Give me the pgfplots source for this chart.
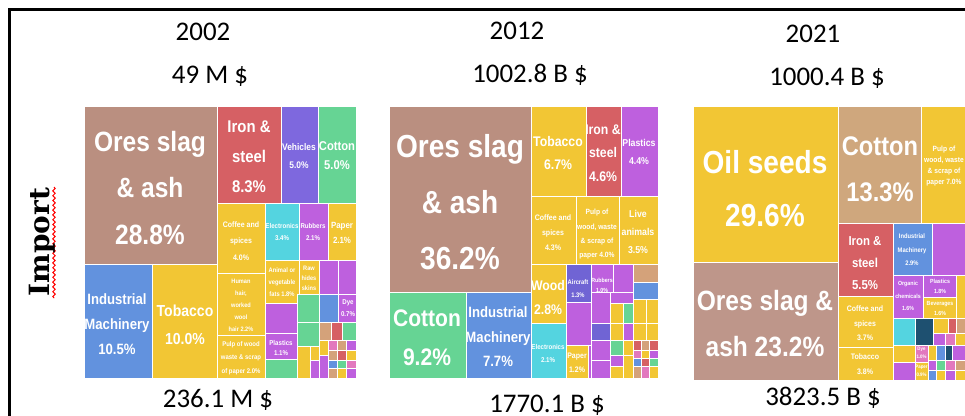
\documentclass[border=0pt]{standalone}
\usepackage{pgfplots}
\pgfplotsset{compat=1.18}
\usetikzlibrary{decorations.pathmorphing}
\usepackage{fontspec}
\setmainfont{Carlito}
\newfontfamily\tmfont{Liberation Sans}[FakeStretch=0.88]
\newfontfamily\impfont{DejaVu Serif}
\definecolor{ores}{RGB}{186,143,128}
\definecolor{ores3}{RGB}{190,150,138}
\definecolor{tan3}{RGB}{207,167,125}
\definecolor{yel}{RGB}{242,198,52}
\definecolor{red1}{RGB}{214,96,100}
\definecolor{grn}{RGB}{102,212,148}
\definecolor{blu}{RGB}{98,146,222}
\definecolor{veh}{RGB}{126,104,222}
\definecolor{pur}{RGB}{190,96,222}
\definecolor{cya}{RGB}{84,212,224}
\definecolor{air}{RGB}{112,100,212}
\definecolor{teal}{RGB}{30,80,112}
\definecolor{tsm}{RGB}{212,162,122}
\definecolor{pnk}{RGB}{226,120,190}
\newcommand{\R}[5]{\addplot[fill=#1, draw=white, line width=0.5bp] coordinates {(#2,#3) (#4,#3) (#4,#5) (#2,#5)} --cycle;}
\newcommand{\lab}[5]{\node[text=white, font=\tmfont\bfseries\fontsize{#3}{#4}\selectfont, align=center, inner sep=0pt] at (axis cs:#1,#2) {#5};}
\newcommand{\ttl}[3]{\node[anchor=base, inner sep=0pt, font=\fontsize{13.5}{16}\selectfont] at (axis cs:#1,#2) {#3};}
\begin{document}
\begin{tikzpicture}
\begin{axis}[scale only axis, width=482.5bp, height=208bp,
  xmin=0, xmax=965, ymin=0, ymax=416, y dir=reverse,
  hide axis, clip=true, no markers]
\addplot[draw=none, fill=none] coordinates {(0,0) (965,0) (965,416) (0,416)};
% ---------- 2002 ----------
\R{ores}{84}{107}{217}{264}
\R{red1}{217}{107}{281}{203}
\R{veh}{281}{107}{318}{203}
\R{grn}{318}{107}{356}{203}
\R{blu}{84}{264}{152}{378}
\R{yel}{152}{264}{217}{378}
\R{yel}{217}{203}{265}{273}
\R{yel}{217}{273}{265}{335}
\R{yel}{217}{335}{265}{378}
\R{cya}{265}{203}{299}{260}
\R{pur}{299}{203}{328}{260}
\R{yel}{328}{203}{356}{260}
\R{yel}{265}{260}{299}{303}
\R{yel}{299}{260}{319}{294}
\R{pur}{319}{260}{338}{294}
\R{pur}{338}{260}{356}{294}
\R{pur}{265}{303}{297}{333}
\R{pur}{265}{333}{297}{359}
\R{grn}{265}{359}{297}{378}
\R{grn}{297}{294}{319}{322}
\R{grn}{297}{322}{319}{346}
\R{yel}{297}{346}{310}{378}
\R{yel}{310}{346}{319}{360}
\R{pur}{310}{360}{319}{378}
\R{blu}{319}{294}{338}{322}
\R{pur}{338}{294}{356}{322}
\R{tsm}{319}{322}{331}{340}
\R{red1}{331}{322}{342}{340}
\R{grn}{342}{322}{356}{340}
\R{yel}{319}{340}{328}{355}
\R{pnk}{328}{340}{337}{350}
\R{tsm}{337}{340}{346}{350}
\R{pur}{346}{340}{356}{350}
\R{tsm}{328}{350}{337}{360}
\R{red1}{337}{350}{346}{360}
\R{yel}{346}{350}{356}{360}
\R{pur}{319}{355}{328}{378}
\R{blu}{328}{360}{337}{368}
\R{grn}{337}{360}{346}{368}
\R{pnk}{346}{360}{356}{368}
\R{tsm}{328}{368}{337}{378}
\R{yel}{337}{368}{346}{378}
\R{pur}{346}{368}{356}{378}
% ---------- 2012 ----------
\R{ores}{389}{107}{531}{292}
\R{grn}{389}{292}{466}{378}
\R{blu}{466}{292}{531}{378}
\R{yel}{531}{107}{586}{196}
\R{red1}{586}{107}{621}{196}
\R{pur}{621}{107}{658}{196}
\R{yel}{531}{196}{576}{264}
\R{yel}{576}{196}{619}{264}
\R{yel}{619}{196}{658}{264}
\R{yel}{531}{264}{566}{323}
\R{cya}{531}{323}{566}{378}
\R{air}{566}{264}{591}{302}
\R{pur}{591}{264}{613}{292}
\R{pur}{613}{264}{633}{292}
\R{tsm}{633}{264}{658}{282}
\R{blu}{633}{282}{658}{299}
\R{pur}{566}{302}{591}{345}
\R{yel}{566}{345}{588}{378}
\R{pur}{588}{345}{591}{378}
\R{pur}{591}{292}{610}{323}
\R{pur}{610}{292}{633}{303}
\R{yel}{633}{299}{646}{323}
\R{yel}{646}{299}{658}{323}
\R{yel}{610}{303}{623}{323}
\R{grn}{623}{303}{633}{323}
\R{air}{591}{323}{610}{340}
\R{pur}{591}{340}{610}{360}
\R{pur}{591}{360}{610}{378}
\R{yel}{610}{323}{623}{340}
\R{pur}{623}{323}{633}{340}
\R{yel}{633}{323}{646}{340}
\R{yel}{646}{323}{658}{340}
\R{grn}{610}{340}{623}{355}
\R{yel}{623}{340}{633}{355}
\R{red1}{633}{340}{641}{350}
\R{tsm}{641}{340}{649}{350}
\R{red1}{649}{340}{658}{350}
\R{pur}{610}{355}{623}{366}
\R{yel}{610}{366}{623}{378}
\R{yel}{623}{355}{633}{378}
\R{pnk}{633}{350}{641}{358}
\R{yel}{641}{350}{649}{358}
\R{pur}{649}{350}{658}{358}
\R{blu}{633}{358}{641}{366}
\R{red1}{641}{358}{649}{366}
\R{grn}{649}{358}{658}{366}
\R{tsm}{633}{366}{641}{378}
\R{pnk}{641}{366}{649}{378}
\R{yel}{649}{366}{658}{378}
% ---------- 2021 ----------
\R{yel}{693}{107}{838}{262}
\R{ores3}{693}{262}{838}{380}
\R{tan3}{838}{107}{921}{223}
\R{yel}{921}{107}{965}{223}
\R{red1}{838}{223}{893}{296}
\R{yel}{838}{296}{893}{347}
\R{yel}{838}{347}{893}{380}
\R{blu}{893}{223}{932}{275}
\R{pur}{932}{223}{965}{275}
\R{pur}{893}{275}{923}{318}
\R{pur}{923}{275}{956}{297}
\R{yel}{923}{297}{956}{318}
\R{yel}{956}{275}{965}{318}
\R{cya}{893}{318}{915}{345}
\R{teal}{915}{318}{933}{345}
\R{yel}{893}{345}{915}{362}
\R{pur}{893}{362}{915}{380}
\R{yel}{933}{318}{948}{333}
\R{red1}{948}{318}{956}{333}
\R{tsm}{956}{318}{965}{333}
\R{pur}{933}{333}{945}{345}
\R{pnk}{945}{333}{955}{345}
\R{yel}{955}{333}{965}{345}
\R{pnk}{915}{345}{928}{362}
\R{yel}{928}{345}{936}{360}
\R{blu}{936}{345}{945}{360}
\R{teal}{945}{345}{952}{360}
\R{pur}{952}{345}{965}{360}
\R{yel}{915}{362}{928}{380}
\R{pur}{928}{360}{936}{370}
\R{blu}{928}{370}{936}{380}
\R{grn}{936}{360}{945}{370}
\R{yel}{936}{370}{945}{380}
\R{pnk}{945}{360}{955}{370}
\R{tsm}{955}{360}{965}{370}
\R{pur}{945}{370}{955}{380}
\R{yel}{955}{370}{965}{380}
% ---------- frame & import ----------
\addplot[black, line width=1.5bp] coordinates {(9,416) (9,10) (965,10)};
\addplot[red, line width=0.5bp, decorate, decoration={snake, amplitude=0.6bp, segment length=2.4bp}] coordinates {(54,187) (54,298)};
\node[rotate=90, inner sep=0pt, font=\impfont\bfseries\fontsize{14}{16}\selectfont] at (axis cs:42,242) {Import};
% ---------- titles ----------
\ttl{203}{41}{2002}
\ttl{210}{83}{49 M \$}
\ttl{218}{407}{236.1 M \$}
\ttl{517}{40}{2012}
\ttl{530}{82}{1002.8 B \$}
\ttl{547}{412}{1770.1 B \$}
\ttl{813}{43}{2021}
\ttl{827}{85}{1000.4 B \$}
\ttl{823}{405}{3823.5 B \$}
% ---------- labels 2002 ----------
\lab{150}{188}{14}{23.5}{Ores slag\\\& ash\\28.8\%}
\lab{249}{157}{8.5}{15}{Iron \&\\steel\\8.3\%}
\lab{299}{156}{4.8}{9}{Vehicles\\5.0\%}
\lab{337}{156}{6.4}{9.5}{Cotton\\5.0\%}
\lab{117}{324}{7.5}{12.5}{Industrial\\Machinery\\10.5\%}
\lab{185}{325}{8}{14}{Tobacco\\10.0\%}
\lab{241}{241}{4}{8.2}{Coffee and\\spices\\4.0\%}
\lab{282}{232}{3.5}{6}{Electronics\\3.4\%}
\lab{313}{232}{3.5}{6}{Rubbers\\2.1\%}
\lab{342}{233}{4.5}{7.5}{Paper\\2.1\%}
\lab{282}{282}{3.3}{6}{Animal or\\vegetable\\fats 1.8\%}
\lab{309}{278}{3.2}{5}{Raw\\hides\\skins}
\lab{241}{305}{3.2}{6}{Human\\hair,\\worked\\wool\\hair 2.2\%}
\lab{241}{358}{3.4}{6.7}{Pulp of wood\\waste \& scrap\\of paper 2.0\%}
\lab{281}{348}{3.5}{5}{Plastics\\1.1\%}
\lab{348}{308}{3.5}{6}{Dye\\0.7\%}
% ---------- labels 2012 ----------
\lab{460}{202}{16}{28}{Ores slag\\\& ash\\36.2\%}
\lab{427}{337.5}{12}{19.5}{Cotton\\9.2\%}
\lab{498}{337}{7.5}{12.3}{Industrial\\Machinery\\7.7\%}
\lab{558}{153}{7}{12}{Tobacco\\6.7\%}
\lab{603}{153}{7}{11.7}{Iron \&\\steel\\4.6\%}
\lab{639}{152}{5}{9}{Plastics\\4.4\%}
\lab{553}{233}{4}{7.5}{Coffee and\\spices\\4.3\%}
\lab{597}{234.5}{3.8}{7.2}{Pulp of\\wood, waste\\\& scrap of\\paper 4.0\%}
\lab{638}{232}{5}{9}{Live\\animals\\3.5\%}
\lab{548}{297.5}{7}{12.5}{Wood\\2.8\%}
\lab{548}{353.5}{3.5}{6.5}{Electronics\\2.1\%}
\lab{578}{288.5}{3.3}{6.5}{Aircraft\\1.3\%}
\lab{602}{285}{3}{5}{Rubbers\\1.0\%}
\lab{577}{363}{4}{7}{Paper\\1.2\%}
% ---------- labels 2021 ----------
\lab{765}{188.5}{16}{26.5}{Oil seeds\\29.6\%}
\lab{765}{323.5}{14}{23.5}{Ores slag \&\\ash 23.2\%}
\lab{880}{169}{13.5}{23}{Cotton\\13.3\%}
\lab{944}{166}{3.8}{5.5}{Pulp of\\wood, waste\\\& scrap of\\paper 7.0\%}
\lab{865}{263}{6.5}{11}{Iron \&\\steel\\5.5\%}
\lab{865}{323.5}{4}{7.3}{Coffee and\\spices\\3.7\%}
\lab{865}{364.5}{4}{7.5}{Tobacco\\3.8\%}
\lab{912}{250}{3.3}{6.8}{Industrial\\Machinery\\2.9\%}
\lab{908}{296}{3}{6.2}{Organic\\chemicals\\1.6\%}
\lab{940}{286}{3}{5}{Plastics\\1.8\%}
\lab{940}{308}{3}{5}{Beverages\\1.6\%}
\lab{921.5}{353}{2.5}{4}{Dye\\1.0\%}
\lab{921.5}{371}{2.5}{4}{Paper\\0.9\%}
\end{axis}
\end{tikzpicture}
\end{document}
